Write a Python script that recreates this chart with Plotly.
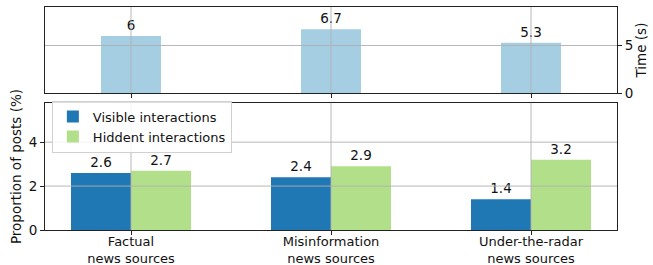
import plotly.graph_objects as go
from plotly.subplots import make_subplots

categories = ["Factual<br>news sources", "Misinformation<br>news sources", "Under-the-radar<br>news sources"]
time_s = [6.0, 6.7, 5.3]
visible = [2.6, 2.4, 1.4]
hidden = [2.7, 2.9, 3.2]
time_ticks = [0, 5]
prop_ticks = [0, 2, 4]

FONT = "DejaVu Sans"
FS = 13.5
xs = list(range(len(categories)))

fig = make_subplots(rows=2, cols=1, shared_xaxes=False, vertical_spacing=0.045,
                    row_heights=[0.404, 0.596])

fig.add_trace(go.Bar(x=xs, y=time_s, width=0.3, marker_color="#a6cee3", marker_line_width=0,
                     text=[f"{v:g}" for v in time_s], textposition="outside", cliponaxis=False,
                     textfont=dict(size=FS, color="#111"), showlegend=False), row=1, col=1)
fig.add_trace(go.Bar(x=xs, y=visible, width=0.3, offset=-0.3, marker_color="#1f78b4", marker_line_width=0,
                     name="Visible interactions",
                     text=[f"{v:g}" for v in visible], textposition="outside", cliponaxis=False,
                     textfont=dict(size=FS, color="#111")), row=2, col=1)
fig.add_trace(go.Bar(x=xs, y=hidden, width=0.3, offset=0, marker_color="#b2df8a", marker_line_width=0,
                     name="Hiddent interactions",
                     text=[f"{v:g}" for v in hidden], textposition="outside", cliponaxis=False,
                     textfont=dict(size=FS, color="#111")), row=2, col=1)

axis_common = dict(showline=True, linecolor="#222", linewidth=1, mirror=True, automargin=False,
                   ticks="outside", ticklen=4, tickcolor="#222", showgrid=False, zeroline=False,
                   tickfont=dict(size=FS, color="#111", family=FONT))
xr = [-0.43, 2.43]
fig.update_xaxes(range=xr, tickvals=xs, ticktext=categories, **axis_common)
fig.update_xaxes(ticklabelstandoff=-5, tickfont=dict(size=13, color="#111", family=FONT), row=2, col=1)
fig.update_xaxes(showticklabels=False, row=1, col=1)
fig.update_yaxes(**axis_common)
fig.update_yaxes(range=[0, 9.05], tickvals=time_ticks, side="right",
                 title=dict(text="Time (s)", font=dict(size=FS, family=FONT, color="#111"), standoff=3),
                 row=1, col=1)
fig.update_yaxes(range=[0, 5.78], tickvals=prop_ticks,
                 title=dict(text="Proportion of posts (%)", font=dict(size=FS, family=FONT, color="#111"), standoff=3),
                 row=2, col=1)

# grid lines drawn above bars (as in the reference)
gc = "rgba(176,176,176,0.9)"
for xref, yref, yt, yr in [("x", "y", time_ticks, [0, 9.05]), ("x2", "y2", prop_ticks, [0, 5.78])]:
    for v in xs:
        fig.add_shape(type="line", xref=xref, yref=yref, x0=v, x1=v, y0=yr[0], y1=yr[1],
                      line=dict(color=gc, width=1), layer="above")
    for t in yt[1:]:
        fig.add_shape(type="line", xref=xref, yref=yref, x0=xr[0], x1=xr[1], y0=t, y1=t,
                      line=dict(color=gc, width=1), layer="above")

fig.update_layout(
    width=653, height=265, margin=dict(l=45, r=36, t=7, b=35),
    paper_bgcolor="white", plot_bgcolor="white", barmode="overlay",
    font=dict(family=FONT, size=FS, color="#111"),
    legend=dict(x=0.012, y=0.58, xanchor="left", yanchor="top", bgcolor="rgba(255,255,255,0.85)",
                bordercolor="#d0d0d0", borderwidth=1, font=dict(size=13, family=FONT),
                itemwidth=30, tracegroupgap=0),
)

fig.write_html("out.html", config={"displayModeBar": False},
               post_script="document.body.style.margin='0px';")
